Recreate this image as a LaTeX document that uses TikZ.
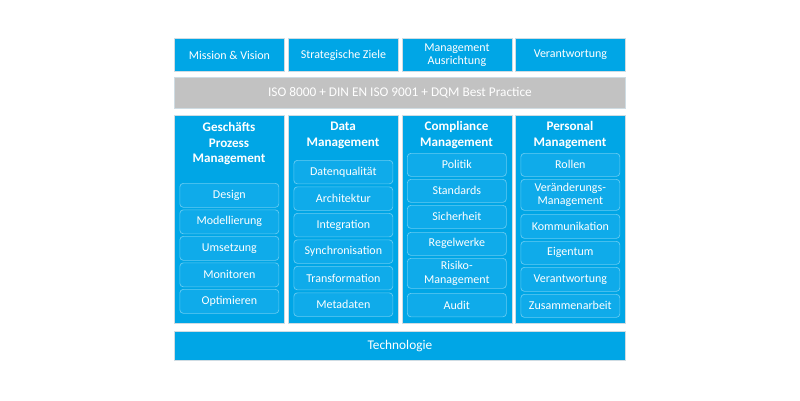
\documentclass[tikz,border=0pt]{standalone}
\usepackage{fontspec}
\setmainfont{Carlito}
\definecolor{myblue}{HTML}{00A6E6}
\definecolor{edgegray}{HTML}{CFDCE3}
\definecolor{innerfill}{HTML}{0FABEA}
\definecolor{inneredge}{HTML}{66CBF2}
\definecolor{isogray}{HTML}{C2C2C2}
\tikzset{
  outerbox/.style={draw=edgegray, fill=myblue, line width=0.9pt, inner sep=0pt, anchor=north west, text=white, align=center, font=\fontsize{12}{13.5}\selectfont},
  graybox/.style={draw=edgegray, fill=isogray, line width=0.9pt, inner sep=0pt, anchor=north west, text=white, font=\fontsize{13.3}{15}\selectfont},
  colbox/.style={draw=edgegray, fill=myblue, line width=0.9pt, inner sep=0pt, anchor=north west, minimum width=110pt, minimum height=208pt},
  coltitle/.style={text=white, align=center, font=\bfseries\fontsize{13.1}{15.8}\selectfont, anchor=north, inner sep=0pt},
  itembox/.style={draw=inneredge, fill=innerfill, line width=0.7pt, rounded corners=3.5pt, inner sep=0pt, anchor=north west, minimum width=99pt, text=white, align=center, font=\fontsize{12}{13.5}\selectfont},
}
\begin{document}
\begin{tikzpicture}[x=1pt,y=-1pt]
\useasboundingbox (0,0) rectangle (800,400);
\fill[white] (0,0) rectangle (800,400);
% top row
\node[outerbox, minimum width=110pt, minimum height=33pt] (mv) at (174,38) {Mission \& Vision};
\node[outerbox, minimum width=110pt, minimum height=33pt] (sz) at (288,38) {Strategische Ziele};
\node[outerbox, minimum width=110pt, minimum height=33pt] (ma) at (401.5,38) {Management\\Ausrichtung};
\node[outerbox, minimum width=110pt, minimum height=33pt] (va) at (515,38) {Verantwortung};
% iso bar
\node[graybox, minimum width=451pt, minimum height=31pt] (iso) at (174,77) {ISO 8000 + DIN EN ISO 9001 + DQM Best Practice};
% columns
\node[colbox] (c1) at (174,115) {};
\node[colbox] (c2) at (288,115) {};
\node[colbox] (c3) at (401.5,115) {};
\node[colbox] (c4) at (515,115) {};
\node[coltitle] (t1) at (229,122) {Geschäfts\\Prozess\\Management};
\node[coltitle] (t2) at (343,122) {Data\\Management};
\node[coltitle] (t3) at (456.5,121) {Compliance\\Management};
\node[coltitle] (t4) at (570,121) {Personal\\Management};
% column 1 items
\node[itembox, minimum height=24pt] (a1) at (179.5,183) {Design};
\node[itembox, minimum height=24pt] (a2) at (179.5,209.5) {Modellierung};
\node[itembox, minimum height=24pt] (a3) at (179.5,236) {Umsetzung};
\node[itembox, minimum height=24pt] (a4) at (179.5,262.5) {Monitoren};
\node[itembox, minimum height=24pt] (a5) at (179.5,289) {Optimieren};
% column 2 items
\node[itembox, minimum height=23.5pt] (b1) at (293.5,160) {Datenqualität};
\node[itembox, minimum height=23.5pt] (b2) at (293.5,186.5) {Architektur};
\node[itembox, minimum height=23.5pt] (b3) at (293.5,213) {Integration};
\node[itembox, minimum height=23.5pt] (b4) at (293.5,239.5) {Synchronisation};
\node[itembox, minimum height=23.5pt] (b5) at (293.5,266) {Transformation};
\node[itembox, minimum height=23.5pt] (b6) at (293.5,292.5) {Metadaten};
% column 3 items
\node[itembox, minimum height=23pt] (d1) at (407,153) {Politik};
\node[itembox, minimum height=23pt] (d2) at (407,179) {Standards};
\node[itembox, minimum height=23pt] (d3) at (407,205) {Sicherheit};
\node[itembox, minimum height=23pt] (d4) at (407,232) {Regelwerke};
\node[itembox, minimum height=30pt] (d5) at (407,258) {Risiko-\\Management};
\node[itembox, minimum height=23.5pt] (d6) at (407,293) {Audit};
% column 4 items
\node[itembox, minimum height=23pt] (e1) at (520.5,153) {Rollen};
\node[itembox, minimum height=31pt] (e2) at (520.5,179) {Veränderungs-\\Management};
\node[itembox, minimum height=24pt] (e3) at (520.5,214) {Kommunikation};
\node[itembox, minimum height=23pt] (e4) at (520.5,241) {Eigentum};
\node[itembox, minimum height=24pt] (e5) at (520.5,267) {Verantwortung};
\node[itembox, minimum height=23pt] (e6) at (520.5,294) {Zusammenarbeit};
% technology bar
\node[outerbox, minimum width=451pt, minimum height=29pt, font=\fontsize{13.3}{15}\selectfont] (tech) at (174,331) {Technologie};
\end{tikzpicture}
\end{document}
